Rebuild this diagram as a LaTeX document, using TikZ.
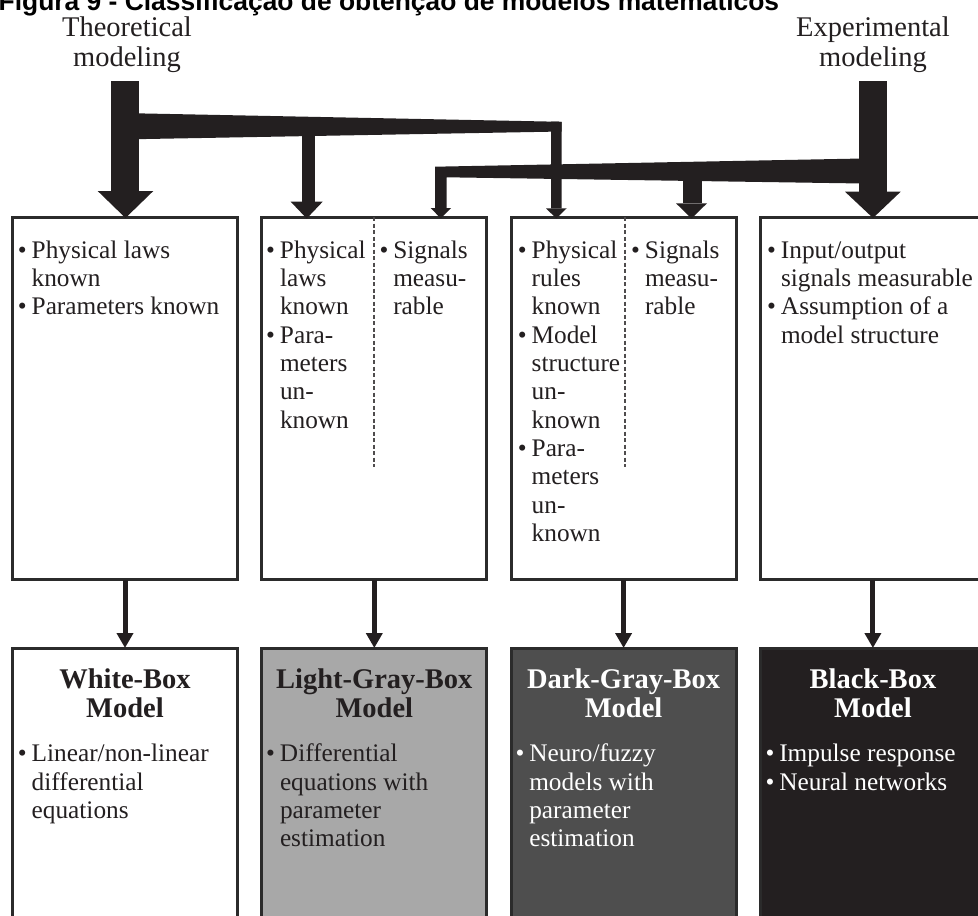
\documentclass[tikz,border=0pt]{standalone}
\usepackage{fontspec}
\setmainfont{Liberation Serif}
\newfontfamily\titlefont{Liberation Sans}
\usetikzlibrary{arrows.meta}
\definecolor{ink}{HTML}{231F20}
\definecolor{lightbox}{HTML}{A8A8A8}
\definecolor{darkbox}{HTML}{4E4E4E}
\definecolor{blackbox}{HTML}{231F20}
\definecolor{edge}{HTML}{2B2B2B}
\newlength{\bind}\setlength{\bind}{13.8pt}
\newcommand{\bitem}[1]{\par\noindent\hangindent=\bind\hangafter=1\makebox[\bind][l]{•}#1}
\newcommand{\colbox}[2]{\parbox[t]{#1}{\raggedright\fontsize{25.3pt}{28.3pt}\selectfont #2}}
\newcommand{\headbox}[1]{\parbox[t]{225pt}{\centering\bfseries\fontsize{28.5pt}{29.3pt}\selectfont #1}}
\begin{document}
\begin{tikzpicture}[x=1pt,y=-1pt,
  boxbase/.style={rectangle,draw=edge,line width=3pt,inner sep=0pt,outer sep=0pt,
    minimum width=225pt,anchor=north west},
  topbox/.style={boxbase,fill=white,minimum height=362.5pt},
  botbox/.style={boxbase,minimum height=300pt},
  txt/.style={anchor=base west,inner sep=0pt,outer sep=0pt,text=ink},
  wtxt/.style={anchor=base west,inner sep=0pt,outer sep=0pt,text=white},
  hdr/.style={anchor=base,inner sep=0pt,outer sep=0pt},
  dashline/.style={draw=ink!80,line width=1.8pt,dash pattern=on 4pt off 2.5pt},
  vline/.style={draw=ink,line width=5pt,-{Triangle[width=16pt,length=15pt]}},
  thick arrow/.style={fill=ink,draw=none}]
\useasboundingbox (0,0) rectangle (978,916);

% title
\node[anchor=base west,inner sep=0pt] (title) at (-1.5,10)
  {\titlefont\bfseries\fontsize{26.4pt}{30pt}\selectfont Figura 9 - Classificação de obtenção de modelos matemáticos};

% labels
\node[hdr,text=ink] (theo) at (127,36.5)
  {\parbox[t]{200pt}{\centering\fontsize{28.5pt}{29.5pt}\selectfont Theoretical\\modeling}};
\node[hdr,text=ink] (expe) at (873,36.5)
  {\parbox[t]{200pt}{\centering\fontsize{28.5pt}{29.5pt}\selectfont Experimental\\modeling}};

% top boxes
\node[topbox] (t1) at (12.5,217) {};
\node[topbox] (t2) at (261.8,217) {};
\node[topbox] (t3) at (511.1,217) {};
\node[topbox] (t4) at (760.4,217) {};

\draw[dashline] (t2.north) -- ++(0,250);
\draw[dashline] ([xshift=1pt]t3.north) -- ++(0,250);

% bottom boxes
\node[botbox,fill=white] (b1) at (12.5,648) {};
\node[botbox,fill=lightbox] (b2) at (261.8,648) {};
\node[botbox,fill=darkbox] (b3) at (511.1,648) {};
\node[botbox,fill=blackbox] (b4) at (760.4,648) {};

% top box texts
\node[txt] (t1a) at (17.9,258.3) {\colbox{215pt}{\bitem{Physical laws\newline known}\bitem{Parameters known}}};
\node[txt] (t2a) at (266.2,258.3) {\colbox{110pt}{\bitem{Physical\newline laws\newline known}\bitem{Para-\newline meters\newline un-\newline known}}};
\node[txt] (t2b) at (379.5,258.3) {\colbox{110pt}{\bitem{Signals\newline measu-\newline rable}}};
\node[txt] (t3a) at (517.9,258.3) {\colbox{110pt}{\bitem{Physical\newline rules\newline known}\bitem{Model\newline structure\newline un-\newline known}\bitem{Para-\newline meters\newline un-\newline known}}};
\node[txt] (t3b) at (631.2,258.3) {\colbox{110pt}{\bitem{Signals\newline measu-\newline rable}}};
\node[txt] (t4a) at (767.2,258.3) {\colbox{215pt}{\bitem{Input/output\newline signals measurable}\bitem{Assumption of a\newline model structure}}};

% bottom box headers
\node[hdr,text=ink] (h1) at (b1.north |- 0,688) {\headbox{White-Box\\Model}};
\node[hdr,text=ink] (h2) at (b2.north |- 0,688) {\headbox{Light-Gray-Box\\Model}};
\node[hdr,text=white] (h3) at (b3.north |- 0,688) {\headbox{Dark-Gray-Box\\Model}};
\node[hdr,text=white] (h4) at (b4.north |- 0,688) {\headbox{Black-Box\\Model}};

% bottom box texts
\node[txt] (b1a) at (17.9,761.7) {\colbox{215pt}{\bitem{Linear/non-linear\newline differential\newline equations}}};
\node[txt] (b2a) at (266.2,761.7) {\colbox{215pt}{\bitem{Differential\newline equations with\newline parameter\newline estimation}}};
\node[wtxt] (b3a) at (515.5,761.7) {\colbox{215pt}{\bitem{Neuro/fuzzy\newline models with\newline parameter\newline estimation}}};
\node[wtxt] (b4a) at (765.5,761.7) {\colbox{215pt}{\bitem{Impulse response}\bitem{Neural networks}}};

% vertical arrows between rows
\draw[vline] (t1.south) -- (b1.north);
\draw[vline] (t2.south) -- (b2.north);
\draw[vline] (t3.south) -- (b3.north);
\draw[vline] (t4.south) -- (b4.north);

% theoretical modeling arrows
\fill[thick arrow] (111,81) -- (139,81) -- (139,191) -- (111,191) -- cycle;
\fill[thick arrow] (97.7,191) -- (153.3,191) -- (125.5,218) -- cycle;
\fill[thick arrow] (135,113.3) -- (561.7,121.8) -- (561.7,131.5) -- (135,139.2) -- cycle;
\fill[thick arrow] (301.7,130) -- (315,130) -- (315,201.7) -- (301.7,201.7) -- cycle;
\fill[thick arrow] (290.7,201.7) -- (322.7,201.7) -- (306.7,218.5) -- cycle;
\fill[thick arrow] (551,121.6) -- (561.7,121.8) -- (561.7,208.3) -- (551,208.3) -- cycle;
\fill[thick arrow] (546,208.3) -- (566.7,208.3) -- (556.3,218.5) -- cycle;

% experimental modeling arrows
\fill[thick arrow] (859.3,81) -- (886.7,81) -- (886.7,191.7) -- (859.3,191.7) -- cycle;
\fill[thick arrow] (845,191.7) -- (900.7,191.7) -- (873,218) -- cycle;
\fill[thick arrow] (435,166.7) -- (863,158.5) -- (863,183.5) -- (446.7,177.3) -- (446.7,208) -- (435,208) -- cycle;
\fill[thick arrow] (430.7,208) -- (451,208) -- (440.8,218.5) -- cycle;
\fill[thick arrow] (683,178) -- (701.7,178) -- (701.7,203.3) -- (683,203.3) -- cycle;
\fill[thick arrow] (676,203.3) -- (707,203.3) -- (691.5,218.5) -- cycle;
\end{tikzpicture}
\end{document}
